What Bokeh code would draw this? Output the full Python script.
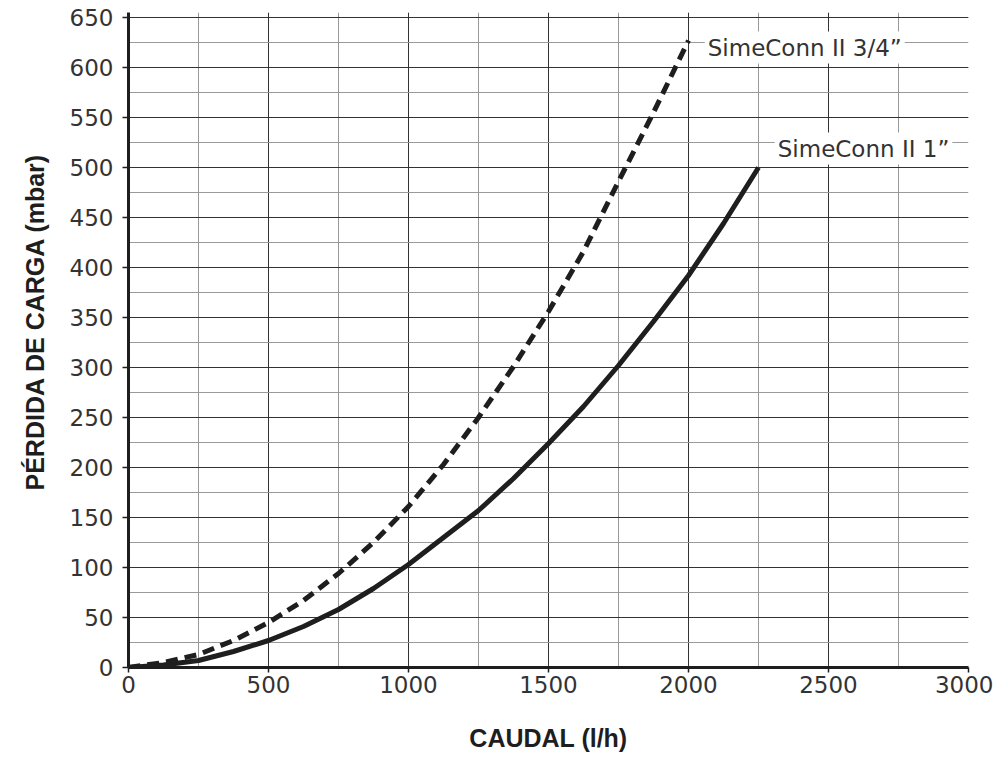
from bokeh.plotting import figure
from bokeh.models import Range1d, SingleIntervalTicker, Label, Title
from bokeh.embed import file_html
from bokeh.resources import INLINE

# Data
caudal_34 = [0, 125, 250, 375, 500, 625, 750, 875, 1000, 1125, 1250,
             1375, 1500, 1625, 1750, 1875, 2000]
perdida_34 = [0, 5, 13, 27, 45, 67, 94, 125, 161, 203, 250,
              301, 356, 416, 486, 555, 627]

caudal_1 = [0, 125, 250, 375, 500, 625, 750, 875, 1000, 1125, 1250,
            1375, 1500, 1625, 1750, 1875, 2000, 2125, 2250]
perdida_1 = [0, 2.5, 7, 16, 27, 41, 58, 79, 103, 130, 157,
             189, 224, 261, 302, 346, 392, 444, 500]

label_34 = "SimeConn II 3/4”"
label_1 = "SimeConn II 1”"
x_title = "CAUDAL (l/h)"
y_title = "PÉRDIDA DE CARGA (mbar)"

TICK_FONT = "DejaVu Sans"
TITLE_FONT = "Liberation Sans"
INK = "#1e1e1e"

p = figure(width=993, height=758,
           x_range=Range1d(0, 3000), y_range=Range1d(0, 655),
           output_backend="svg", toolbar_location=None,
           min_border_left=128, min_border_right=25,
           min_border_top=12, min_border_bottom=91)
p.outline_line_color = None
p.background_fill_color = "white"

p.xaxis.ticker = SingleIntervalTicker(interval=500, num_minor_ticks=2)
p.yaxis.ticker = SingleIntervalTicker(interval=50, num_minor_ticks=2)

for g in (p.xgrid, p.ygrid):
    g.grid_line_color = "#333333"
    g.grid_line_width = 1
    g.minor_grid_line_color = "#9a9a9a"
    g.minor_grid_line_width = 1

for ax in (p.xaxis, p.yaxis):
    ax.axis_line_color = INK
    ax.axis_line_width = 3
    ax.major_tick_line_color = INK
    ax.major_tick_line_width = 1.5
    ax.major_tick_in = 0
    ax.minor_tick_line_color = None
    ax.major_label_text_font = TICK_FONT
    ax.major_label_text_font_size = "23px"
    ax.major_label_text_color = "#333333"
    ax.axis_label_text_font = TITLE_FONT
    ax.axis_label_text_font_size = "25px"
    ax.axis_label_text_font_style = "bold"
    ax.axis_label_text_color = INK

p.xaxis.major_tick_out = 5
p.xaxis.major_label_standoff = 3
p.xaxis.axis_label = x_title
p.xaxis.axis_label_standoff = 28

p.yaxis.major_tick_out = 6
p.yaxis.major_label_standoff = 9

ytitle = Title(text=y_title, align="left", offset=177,
               text_font=TITLE_FONT, text_font_size="25px",
               text_font_style="bold", text_color=INK, standoff=35)
p.add_layout(ytitle, "left")

p.line(caudal_34, perdida_34, line_width=5, line_color=INK, line_dash="12 7")
p.line(caudal_1, perdida_1, line_width=5, line_color=INK)

for txt, xx, yy in ((label_34, 2058, 620), (label_1, 2308, 519)):
    p.add_layout(Label(x=xx, y=yy, text=txt, text_font=TICK_FONT,
                       text_font_size="23px", text_color="#333333",
                       text_baseline="middle", text_align="left",
                       background_fill_color="white", padding=3))

open("out.html", "w").write(file_html(p, INLINE))
